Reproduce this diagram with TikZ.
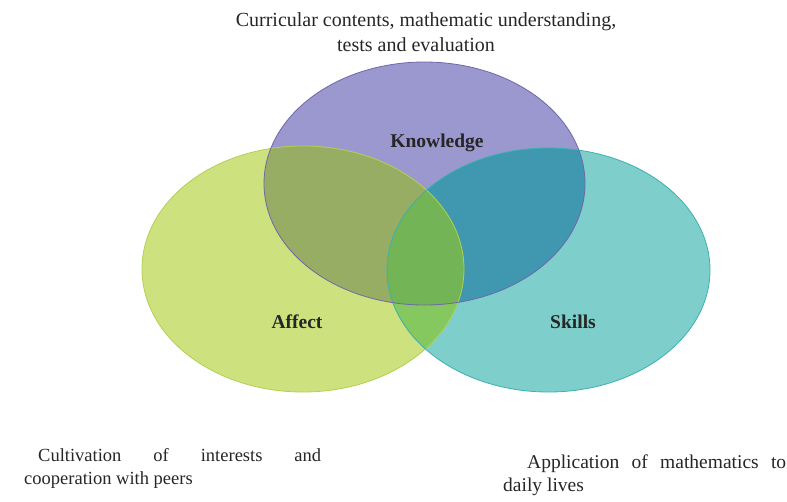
\documentclass[tikz,border=0pt]{standalone}
\usepackage{fontspec}
\setmainfont{Liberation Serif}
\begin{document}
\begin{tikzpicture}[x=1pt,y=-1pt,
  lbl/.style={font=\fontsize{19.5}{23}\selectfont\bfseries, text=black!85, inner sep=0pt},
  toptxt/.style={font=\fontsize{20}{24}\selectfont, text=black!85, inner sep=0pt, anchor=base},
  txt/.style={text=black!85, inner sep=0pt, anchor=base west},
  edge/.style={line width=0.8pt}]
\useasboundingbox (0,0) rectangle (787,501);
\def\Kell{(424.5,183.5) ellipse [x radius=160.5, y radius=121.5]}
\def\Aell{(303,269) ellipse [x radius=161, y radius=123]}
\def\Sell{(548.5,270) ellipse [x radius=161.5, y radius=122]}
\definecolor{cK}{HTML}{9B98D0}
\definecolor{cA}{HTML}{CDE27E}
\definecolor{cS}{HTML}{7ECECB}
\definecolor{cKA}{HTML}{98AD64}
\definecolor{cKS}{HTML}{3F98AF}
\definecolor{cAS}{HTML}{84C85F}
\definecolor{cKAS}{HTML}{72B456}
\definecolor{bK}{HTML}{6E67AB}
\definecolor{bA}{HTML}{B2D050}
\definecolor{bS}{HTML}{3CB1B0}
% base regions
\fill[cK] \Kell;
\fill[cA] \Aell;
\fill[cS] \Sell;
% pairwise overlaps
\begin{scope}\clip \Kell; \fill[cKA] \Aell; \end{scope}
\begin{scope}\clip \Kell; \fill[cKS] \Sell; \end{scope}
\begin{scope}\clip \Aell; \fill[cAS] \Sell; \end{scope}
\begin{scope}\clip \Kell; \clip \Aell; \fill[cKAS] \Sell; \end{scope}
% borders
\draw[edge, bA] \Aell;
\draw[edge, bS] \Sell;
\draw[edge, bK] \Kell;
% labels
\node[lbl] (know) at (437,143) {Knowledge};
\node[lbl] (aff) at (297,322) {Affect};
\node[lbl] (sk) at (573,322) {Skills};
% top text
\node[toptxt] (top1) at (426,26) {Curricular contents, mathematic understanding,};
\node[toptxt] (top2) at (416,51) {tests and evaluation};
% bottom texts
\node[txt] (left1) at (24,461) {\fontsize{18.5}{23}\selectfont\parbox[t]{297pt}{\parindent=14pt Cultivation of interests and\linebreak cooperation with peers}};
\node[txt] (right1) at (503,468) {\fontsize{19.5}{23}\selectfont\parbox[t]{283pt}{\parindent=24pt Application of mathematics to\linebreak daily lives}};
\end{tikzpicture}
\end{document}
